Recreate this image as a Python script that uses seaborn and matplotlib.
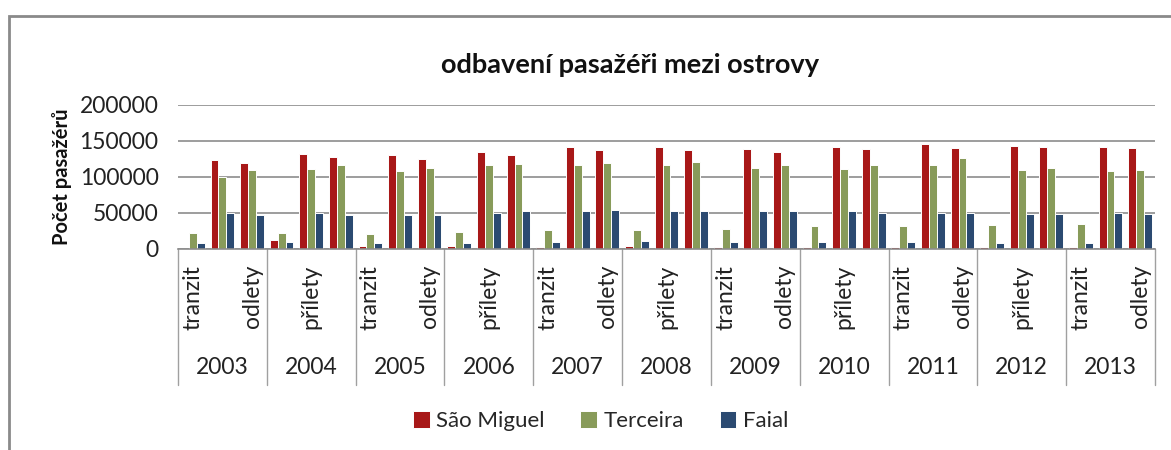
import pandas as pd
import matplotlib.pyplot as plt
import seaborn as sns
from matplotlib.patches import Rectangle

# data (per year: tranzit, přílety, odlety)
years = ['2003', '2004', '2005', '2006', '2007', '2008', '2009', '2010', '2011', '2012', '2013']
kinds = ['tranzit', 'přílety', 'odlety']
islands = ['São Miguel', 'Terceira', 'Faial']

sao_miguel = [0, 123000, 119000, 13000, 131800, 128000, 4200, 130000, 124800,
              4200, 135000, 130000, 2800, 141500, 136900, 4200, 141500, 136900,
              2800, 138700, 135000, 2800, 141500, 138700, 2800, 145200, 140100,
              2800, 143400, 141500, 2800, 141500, 140100]
terceira = [22700, 99800, 109500, 22700, 110900, 116000, 21300, 107700, 112300,
            23200, 116000, 117900, 26500, 116000, 119300, 26500, 116000, 121100,
            28300, 112300, 116000, 32000, 110900, 116000, 32000, 116000, 126200,
            33400, 109500, 112300, 35300, 107700, 109500]
faial = [7900, 49700, 47300, 9300, 49700, 47300, 7900, 47300, 47300,
         7900, 50600, 52400, 9700, 52400, 54300, 11100, 52400, 52400,
         9300, 52400, 52400, 9300, 52400, 50600, 9300, 50600, 50600,
         7900, 49200, 49200, 7900, 50600, 49200]

colors = ['#C00000', '#8DA64F', '#1F497D']

slots = [y + ' ' + k for y in years for k in kinds]
rows = []
for name, vals in zip(islands, [sao_miguel, terceira, faial]):
    for s, v in zip(slots, vals):
        rows.append({'slot': s, 'island': name, 'value': v})
df = pd.DataFrame(rows)

sns.set_style('white')
plt.rcParams['font.family'] = ['Lato', 'DejaVu Sans']

fig = plt.figure(figsize=(11.71, 4.5), dpi=100)
ax = fig.add_axes([0.152, 0.4467, 0.8343, 0.32])

sns.barplot(data=df, x='slot', y='value', hue='island', order=slots,
            hue_order=islands, palette=colors, width=0.8,
            edgecolor='white', linewidth=0.7, ax=ax)

ax.set_xlim(-0.5, len(slots) - 0.5)
ax.set_ylim(0, 200000)
ax.set_yticks([0, 50000, 100000, 150000, 200000])
ax.set_yticklabels(['0', '50000', '100000', '150000', '200000'], fontsize=16.5, color='#222222')
ax.tick_params(axis='y', length=0, pad=14)
ax.yaxis.grid(True, color='#8C8C8C', linewidth=1.2)
ax.set_axisbelow(True)
ax.set_xticks([])
ax.set_xlabel('')
ax.set_ylabel('')
for side in ['left', 'right', 'top']:
    ax.spines[side].set_visible(False)
ax.spines['bottom'].set_color('#8C8C8C')
ax.spines['bottom'].set_linewidth(1.2)

# multi-level category axis
tr = ax.get_xaxis_transform()
for i, s in enumerate(slots):
    if i % 2 == 0:
        ax.text(i, -0.11, s.split(' ')[1], rotation=90, ha='center', va='top',
                fontsize=16.5, color='#222222', transform=tr)
for j, y in enumerate(years):
    ax.text(3 * j + 1, -0.826, y, ha='center', va='center', fontsize=16.5,
            color='#222222', transform=tr)
for j in range(len(years) + 1):
    ax.plot([3 * j - 0.5, 3 * j - 0.5], [0, -0.944], color='#A0A0A0',
            linewidth=1.0, transform=tr, clip_on=False)

ax.get_legend().remove()
handles, labels = ax.get_legend_handles_labels()
fig.legend(handles, labels, loc='center', bbox_to_anchor=(0.513, 0.064), ncol=3,
           frameon=False, fontsize=16, handlelength=0.75, handleheight=0.75,
           handletextpad=0.3, columnspacing=1.6)

fig.text(0.538, 0.855, 'odbavení pasažéři mezi ostrovy', ha='center', va='center',
         fontsize=19.5, fontweight='bold', color='#111111')
fig.text(0.053, 0.607, 'Počet pasažérů', rotation=90, ha='center', va='center',
         fontsize=14.5, fontweight='bold', color='#111111')

# chart area frame (cut at right and bottom in the reference)
fig.patches.append(Rectangle((0.0077, -0.2), 1.2, 1.164, transform=fig.transFigure,
                             fill=False, edgecolor='#8A8A8A', linewidth=2))

fig.savefig('out.png', dpi=100)
